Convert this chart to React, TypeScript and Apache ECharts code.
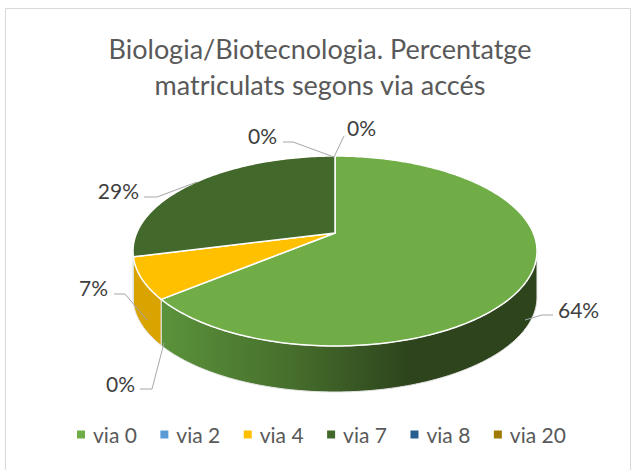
import React, { useEffect, useRef } from "react";
import * as echarts from "echarts";

const TITLE = "Biologia/Biotecnologia. Percentatge\nmatriculats segons via accés";
const CATEGORIES = ["via 0", "via 2", "via 4", "via 7", "via 8", "via 20"];
const VALUES = [64, 0, 7, 29, 0, 0];
const COLORS = ["#70AD47", "#5B9BD5", "#FFC000", "#43682B", "#255E91", "#9E7A00"];
const WALL_COLORS = ["#5B933B", "#4E84B5", "#D9A300", "#39582A", "#1F5079", "#866800"];

// Layout of the tilted disc: ellipse centre, radii, wall depth and apex shift (perspective)
const CX = 335, CY = 251, RX = 202, RY = 95, DEPTH = 46, APEX = 0.19;

// Leader lines and label anchors, by category index
const LABEL_LAYOUT: Record<number, { line: number[][]; x: number; y: number; align: string }> = {
  0: { line: [[525, 320], [542, 315], [553, 315]], x: 558, y: 309, align: "left" },
  1: { line: [[164, 343], [152, 389], [140, 389]], x: 135, y: 383, align: "right" },
  2: { line: [[147, 320], [125, 294], [114, 294]], x: 108, y: 287, align: "right" },
  3: { line: [[197, 182], [157, 197], [144, 197]], x: 139, y: 190, align: "right" },
  4: { line: [[334, 157], [293, 142], [283, 142]], x: 277, y: 135, align: "right" },
  5: { line: [[334, 157], [344, 136]], x: 347, y: 127, align: "left" },
};

const TOTAL = VALUES.reduce((a, b) => a + b, 0);

function project(fraction: number) {
  const th = fraction * 2 * Math.PI;
  const u = Math.sin(th), v = Math.cos(th);
  const w = 1 + APEX * v;
  const U = (u * Math.sqrt(1 - APEX * APEX)) / w;
  const V = (v + APEX) / w;
  return { x: CX + RX * U, y: CY - RY * V, back: V > 0 };
}

const renderSlice = (params: any, api: any) => {
  const i = params.seriesIndex;
  const value = api.value(0);
  const start = VALUES.slice(0, i).reduce((a, b) => a + b, 0) / TOTAL;
  const end = start + value / TOTAL;
  const children: any[] = [];

  if (value > 0) {
    const steps = Math.max(4, Math.ceil((end - start) * 360));
    const arc: { x: number; y: number; back: boolean }[] = [];
    for (let s = 0; s <= steps; s++) arc.push(project(start + ((end - start) * s) / steps));

    const front = arc.filter((p) => !p.back);
    if (front.length > 1) {
      const wallPts = [
        ...front.map((p) => [p.x, p.y]),
        ...front.slice().reverse().map((p) => [p.x, p.y + DEPTH]),
      ];
      const fill =
        i === 0
          ? new echarts.graphic.LinearGradient(
              160, 0, 537, 0,
              [
                { offset: 0, color: "#5B933B" },
                { offset: 0.35, color: "#466E2C" },
                { offset: 0.66, color: "#2D441C" },
                { offset: 1, color: "#2D441C" },
              ],
              true
            )
          : WALL_COLORS[i];
      children.push({
        type: "polygon",
        z2: 1,
        shape: { points: wallPts },
        style: { fill, stroke: "#E4E4E4", lineWidth: 1 },
      });
    }

    const apex = { x: CX, y: CY - RY * APEX };
    children.push({
      type: "polygon",
      z2: 2,
      shape: { points: [[apex.x, apex.y], ...arc.map((p) => [p.x, p.y])] },
      style: { fill: COLORS[i], stroke: "#FFFFFF", lineWidth: 1.5, lineJoin: "round" },
    });
  }

  const lay = LABEL_LAYOUT[i];
  children.push({
    type: "polyline",
    z2: 3,
    shape: { points: lay.line },
    style: { fill: "none", stroke: "#A6A6A6", lineWidth: 1 },
  });
  children.push({
    type: "text",
    z2: 4,
    style: {
      x: lay.x,
      y: lay.y,
      text: `${Math.round((value / TOTAL) * 100)}%`,
      fill: "#404040",
      fontSize: 21,
      fontFamily: "Lato",
      align: lay.align,
      verticalAlign: "middle",
    },
  });
  return { type: "group", children };
};

export default function App() {
  const ref = useRef<HTMLDivElement>(null);
  useEffect(() => {
    const chart = echarts.init(ref.current!, undefined, { renderer: "svg" });
    chart.setOption({
      animation: false,
      backgroundColor: "#FFFFFF",
      title: {
        text: TITLE,
        left: 315,
        top: 25,
        textAlign: "center",
        textStyle: {
          fontFamily: "Lato",
          fontSize: 27,
          fontWeight: "normal",
          color: "#595959",
          lineHeight: 36,
        },
      },
      legend: {
        data: CATEGORIES,
        left: 72,
        top: 419,
        icon: "rect",
        itemWidth: 8,
        itemHeight: 8,
        itemGap: 23.5,
        textStyle: {
          fontFamily: "Lato",
          fontSize: 21,
          color: "#595959",
          padding: [0, 0, 0, 3],
        },
      },
      graphic: [
        {
          type: "rect",
          shape: { x: 5.5, y: 8.5, width: 625, height: 480 },
          style: { fill: "none", stroke: "#D9D9D9", lineWidth: 1 },
          silent: true,
        },
      ],
      series: CATEGORIES.map((name, i) => ({
        type: "custom",
        name,
        coordinateSystem: "none",
        renderItem: renderSlice,
        data: [[VALUES[i]]],
        itemStyle: { color: COLORS[i] },
        silent: true,
      })),
    });
    return () => chart.dispose();
  }, []);
  return <div ref={ref} style={{ position: "absolute", left: 0, top: 0, width: 632, height: 470 }} />;
}
